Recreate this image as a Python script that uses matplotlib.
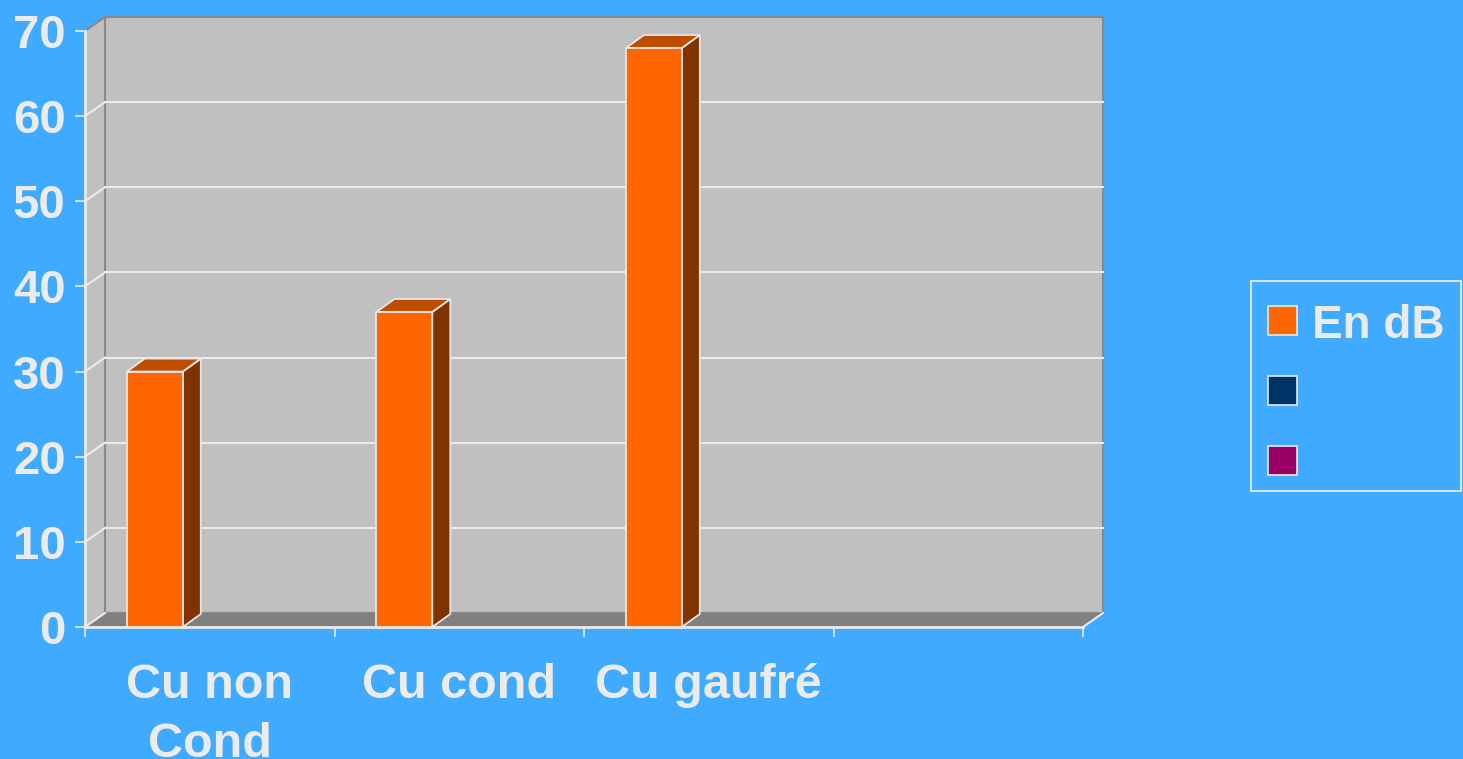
import matplotlib
matplotlib.use("Agg")
import matplotlib.pyplot as plt
from matplotlib.patches import Polygon, Rectangle
from matplotlib.colors import to_rgb

# ---- data ----
categories = ["Cu non\nCond", "Cu cond", "Cu gaufré", ""]
series_names = ["En dB", "", ""]
series_en_db = [30, 37, 68, None]
series_2 = [None, None, None, None]
series_3 = [None, None, None, None]
series_values = [series_en_db, series_2, series_3]
series_colors = ["#FF6600", "#003366", "#990066"]
y_ticks = [0, 10, 20, 30, 40, 50, 60, 70]

# ---- style ----
W, H = 1463, 759
BG = "#3FAAFF"
WALL = "#C0C0C0"
FLOOR = "#808080"
LIGHT = "#EBEBEB"
FONT = "Liberation Sans"

fig = plt.figure(figsize=(W / 100, H / 100), dpi=100)
fig.patch.set_facecolor(BG)

ax = fig.add_axes([85 / W, (H - 627) / H, 1018 / W, 610 / H])
ax.set_facecolor("none")
ncat = len(categories)
ymax = max(y_ticks)
px_x = 1018 / (ncat + 0.08)
px_y = 610 / (ymax + 1.64)
DX = 20 / px_x
DY = 14 / px_y
BDX = 18 / px_x
BDY = 13 / px_y
ax.set_xlim(0, ncat + DX)
ax.set_ylim(0, ymax + DY)
for s in ax.spines.values():
    s.set_visible(False)

# back wall
ax.add_patch(Rectangle((DX, DY), ncat, ymax, facecolor=WALL, edgecolor="#888888",
                       lw=1.5, zorder=1, clip_on=False))
# side wall
ax.add_patch(Polygon([(0, 0), (DX, DY), (DX, ymax + DY), (0, ymax)], closed=True,
                     facecolor=WALL, edgecolor="none", zorder=1, clip_on=False))
ax.plot([0, DX], [ymax, ymax + DY], color="#888888", lw=1.5, zorder=2, clip_on=False)
ax.plot([DX, DX], [DY, ymax + DY], color="#888888", lw=1.5, zorder=2, clip_on=False)
# floor
ax.add_patch(Polygon([(0, 0), (ncat, 0), (ncat + DX, DY), (DX, DY)], closed=True,
                     facecolor=FLOOR, edgecolor="none", zorder=2, clip_on=False))
# gridlines
for v in y_ticks[1:-1]:
    ax.plot([DX, ncat + DX], [v + DY, v + DY], color=LIGHT, lw=1.5, zorder=2, clip_on=False)
    ax.plot([0, DX], [v, v + DY], color=LIGHT, lw=1.5, zorder=2, clip_on=False)
# floor / axis edges
ax.plot([0, DX], [0, DY], color=LIGHT, lw=1.5, zorder=3, clip_on=False)
ax.plot([ncat, ncat + DX], [0, DY], color=LIGHT, lw=1.5, zorder=3, clip_on=False)
ax.plot([0, ncat], [0, 0], color=LIGHT, lw=2, zorder=3, clip_on=False)
ax.plot([0, 0], [0, ymax], color=LIGHT, lw=2, zorder=3, clip_on=False)

# bars
bar_w = 0.224
group_left = 0.168
def shade(c, f):
    r, g, b = to_rgb(c)
    return (r * f, g * f, b * f)

z = 5
for si, vals in enumerate(series_values):
    col = series_colors[si]
    for ci, v in enumerate(vals):
        if v is None:
            continue
        x0 = ci + group_left + si * bar_w
        x1 = x0 + bar_w
        ec = "#E6E6E6"
        ax.add_patch(Polygon([(x1, 0), (x1 + BDX, BDY), (x1 + BDX, v + BDY), (x1, v)],
                             closed=True, facecolor=shade(col, 0.5), edgecolor=ec,
                             lw=1.3, zorder=z, clip_on=False, joinstyle="round"))
        ax.add_patch(Polygon([(x0, v), (x0 + BDX, v + BDY), (x1 + BDX, v + BDY), (x1, v)],
                             closed=True, facecolor=shade(col, 0.75), edgecolor=ec,
                             lw=1.3, zorder=z, clip_on=False, joinstyle="round"))
        ax.add_patch(Rectangle((x0, 0), bar_w, v, facecolor=col, edgecolor=ec,
                               lw=1.3, zorder=z + 0.5, clip_on=False))
        z += 1

# ticks
ax.set_yticks(y_ticks)
ax.set_yticklabels([str(t) for t in y_ticks])
ax.tick_params(axis="y", direction="out", length=7, width=1.2, color=LIGHT,
               pad=7, labelsize=34, labelcolor=LIGHT)
ax.set_xticks(range(ncat + 1))
ax.set_xticklabels([])
ax.set_xticks([i + 0.5 for i in range(ncat)], minor=True)
ax.set_xticklabels(categories, minor=True)
ax.tick_params(axis="x", which="major", direction="out", length=7.5, width=1.2, color=LIGHT)
ax.tick_params(axis="x", which="minor", length=0, pad=26, labelsize=35, labelcolor=LIGHT)
for lab in ax.get_yticklabels():
    lab.set_fontfamily(FONT)
    lab.set_fontweight("bold")
for lab in ax.get_xticklabels(minor=True):
    lab.set_fontfamily(FONT)
    lab.set_fontweight("bold")
    lab.set_linespacing(1.4)

# legend (manual, in figure pixel positions)
def fx(x): return x / W
def fy(y): return (H - y) / H
fig.patches.append(Rectangle((fx(1251), fy(491)), 210 / W, 210 / H, transform=fig.transFigure,
                             facecolor="none", edgecolor=LIGHT, lw=1.3))
for i, (name, col) in enumerate(zip(series_names, series_colors)):
    top = 306 + 70 * i
    fig.patches.append(Rectangle((fx(1268), fy(top + 29)), 29 / W, 29 / H,
                                 transform=fig.transFigure, facecolor=col,
                                 edgecolor=LIGHT, lw=1.2))
    if name:
        fig.text(fx(1312), fy(top + 14.5), name, fontsize=33, fontweight="bold",
                 family=FONT, color=LIGHT, va="center_baseline", ha="left")

fig.savefig("out.png", dpi=100, facecolor=BG)
